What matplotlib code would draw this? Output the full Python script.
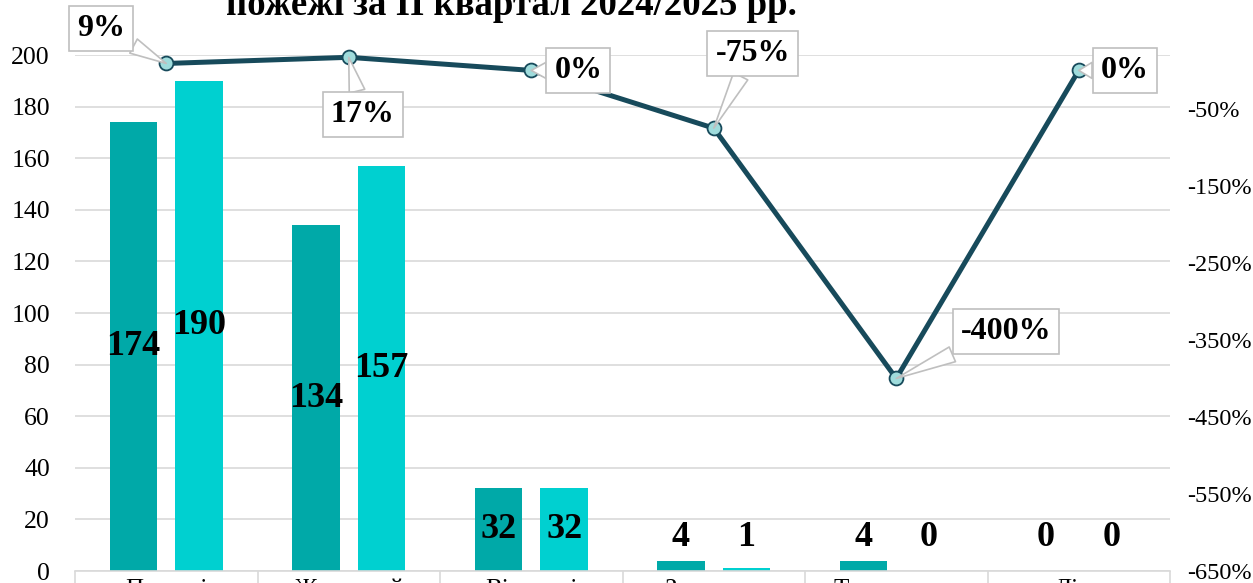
import matplotlib.pyplot as plt
import numpy as np

plt.rcParams['font.family'] = ['Liberation Serif', 'DejaVu Serif']

# data
categories = ["Пожежі", "Житловий\nсектор", "Відкриті\nтериторії",
              "Загинуло", "Травмовано", "Діти"]
values_2024 = [174, 134, 32, 4, 4, 0]
values_2025 = [190, 157, 32, 1, 0, 0]
change_pct = [9, 17, 0, -75, -400, 0]
change_labels = ["9%", "17%", "0%", "-75%", "-400%", "0%"]
title = "пожежі за ІІ квартал 2024/2025 рр."

# label box offsets in points (dx, dy) from each point
label_offsets = [(-47, 25), (10, -41), (34, 0), (28, 54), (79, 34), (33, 0)]

dark_teal = "#00A9A8"
light_cyan = "#00D0D0"
line_col = "#174A5B"
grid_col = "#D9D9D9"

fig = plt.figure(figsize=(12.53, 5.83), dpi=100)
ax = fig.add_axes([75 / 1253, 1 - 571 / 583, (1170 - 75) / 1253, (571 - 55) / 583])

x = np.arange(len(categories))
w = 0.26
off = 0.18
ax.bar(x - off, values_2024, width=w, color=dark_teal, zorder=2)
ax.bar(x + off, values_2025, width=w, color=light_cyan, zorder=2)

for xi, v1, v2 in zip(x, values_2024, values_2025):
    ax.text(xi - off, max(v1 / 2, 12.8), str(v1), ha='center', va='center',
            fontsize=26, fontweight='bold', zorder=3)
    ax.text(xi + off, max(v2 / 2, 12.8), str(v2), ha='center', va='center',
            fontsize=26, fontweight='bold', zorder=3)

ax.set_xlim(-0.5, len(categories) - 0.5)
ax.set_ylim(0, 200)
ax.set_yticks(np.arange(0, 201, 20))
ax.yaxis.grid(True, color=grid_col, linewidth=1.2)
ax.set_axisbelow(True)
ax.tick_params(axis='y', length=0, labelsize=18.5, pad=18)

ax.set_xticks(x)
ax.set_xticklabels(categories, fontsize=18, va='top')
ax.set_xticks(np.arange(-0.5, len(categories), 1), minor=True)
ax.tick_params(axis='x', which='major', length=0, pad=6)
ax.tick_params(axis='x', which='minor', length=30, color=grid_col, width=1.2, direction='out')
for s in ['top', 'right', 'left']:
    ax.spines[s].set_visible(False)
ax.spines['bottom'].set_color(grid_col)
ax.spines['bottom'].set_linewidth(1.2)

ax2 = ax.twinx()
ax2.set_ylim(-650, 20)
ax2.set_yticks(np.arange(-650, 0, 100))
ax2.set_yticklabels([f"{t}%" for t in np.arange(-650, 0, 100)])
ax2.tick_params(axis='y', length=0, labelsize=17.5, pad=12)
for s in ax2.spines.values():
    s.set_visible(False)

ax2.plot(x, change_pct, color=line_col, linewidth=3.6, marker='o', markersize=10,
         markerfacecolor="#9FDCDC", markeredgecolor=line_col, markeredgewidth=1.3,
         zorder=4, clip_on=False)

for xi, v, lab, (dx, dy) in zip(x, change_pct, change_labels, label_offsets):
    ax2.annotate(lab, xy=(xi, v), xytext=(dx, dy), textcoords='offset points',
                 ha='center', va='center', fontsize=23, fontweight='bold',
                 bbox=dict(boxstyle='square,pad=0.25', fc='white', ec='#BFBFBF', lw=1.2),
                 arrowprops=dict(arrowstyle='wedge,tail_width=0.5', fc='white',
                                 ec='#BFBFBF', lw=1.2, shrinkA=0, shrinkB=0),
                 zorder=5, annotation_clip=False)

fig.text(511 / 1253, 1 - 15 / 583, title, ha='center', va='baseline',
         fontsize=26.5, fontweight='bold')

fig.savefig("out.png", dpi=100)
